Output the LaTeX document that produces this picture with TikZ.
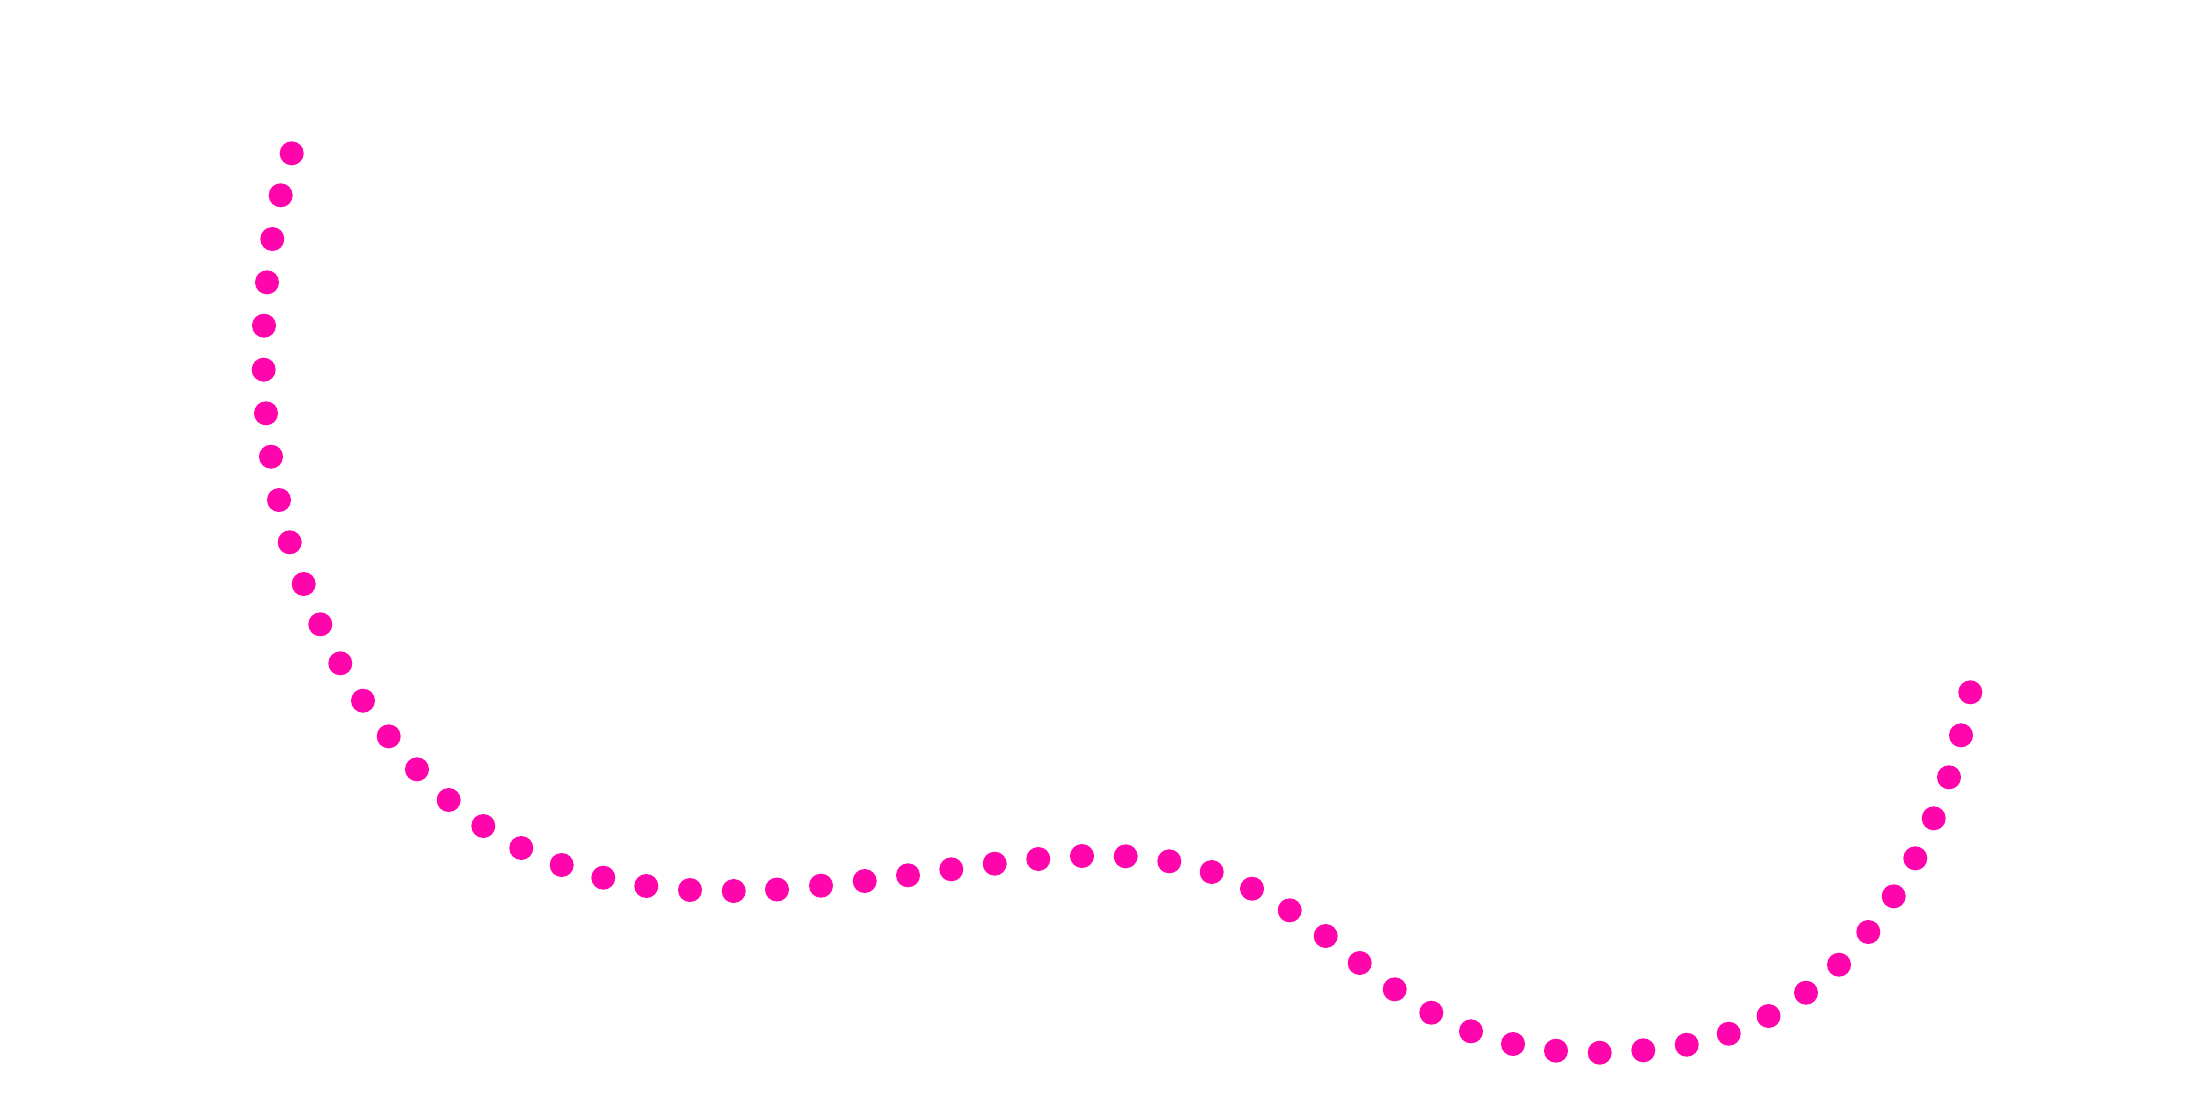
\documentclass[tikz,border=0pt]{standalone}
\definecolor{dotpink}{RGB}{255,5,172}
\begin{document}
\begin{tikzpicture}[x=0.5pt,y=-0.5pt,dotmark/.style={fill=dotpink}]
\useasboundingbox[fill=white] (0,0) rectangle (2207,1114);
\foreach \px/\py in {
291.7/153.3, 280.7/195.3, 272.3/239, 267/282.3, 264/325.7, 263.7/369.7,
266/413.3, 271/456.7, 279/500, 289.7/542.3, 303.7/584, 320.3/624.3,
340.3/663.3, 363/700.7, 388.7/736.3, 417/769.3, 448.7/800, 483.3/826,
521.3/848, 561.7/865, 603.3/877.7, 646.3/886, 690/890, 733.7/891,
777/889.5, 821/885.7, 864.7/881, 908/875.3, 951.3/869.3, 994.7/863.7,
1038.3/859, 1082/856, 1125.7/856.3, 1169.3/861.3, 1211.7/872, 1252/888.7,
1289.7/910.3, 1325.7/936, 1359.7/963, 1394.7/989.3, 1431.3/1012.7, 1471/1031.3,
1513/1044, 1556/1050.7, 1599.7/1052.7, 1643.3/1050.3, 1686.7/1044.7, 1728.7/1033.7,
1768.5/1016, 1806/992.7, 1839/964.7, 1868.3/932, 1893.7/896.3, 1915.3/858.3,
1933.7/818.3, 1949/777.3, 1961/735.3, 1970.3/692.3}
  \fill[dotmark] (\px,\py) circle[radius=6pt];
\end{tikzpicture}
\end{document}
